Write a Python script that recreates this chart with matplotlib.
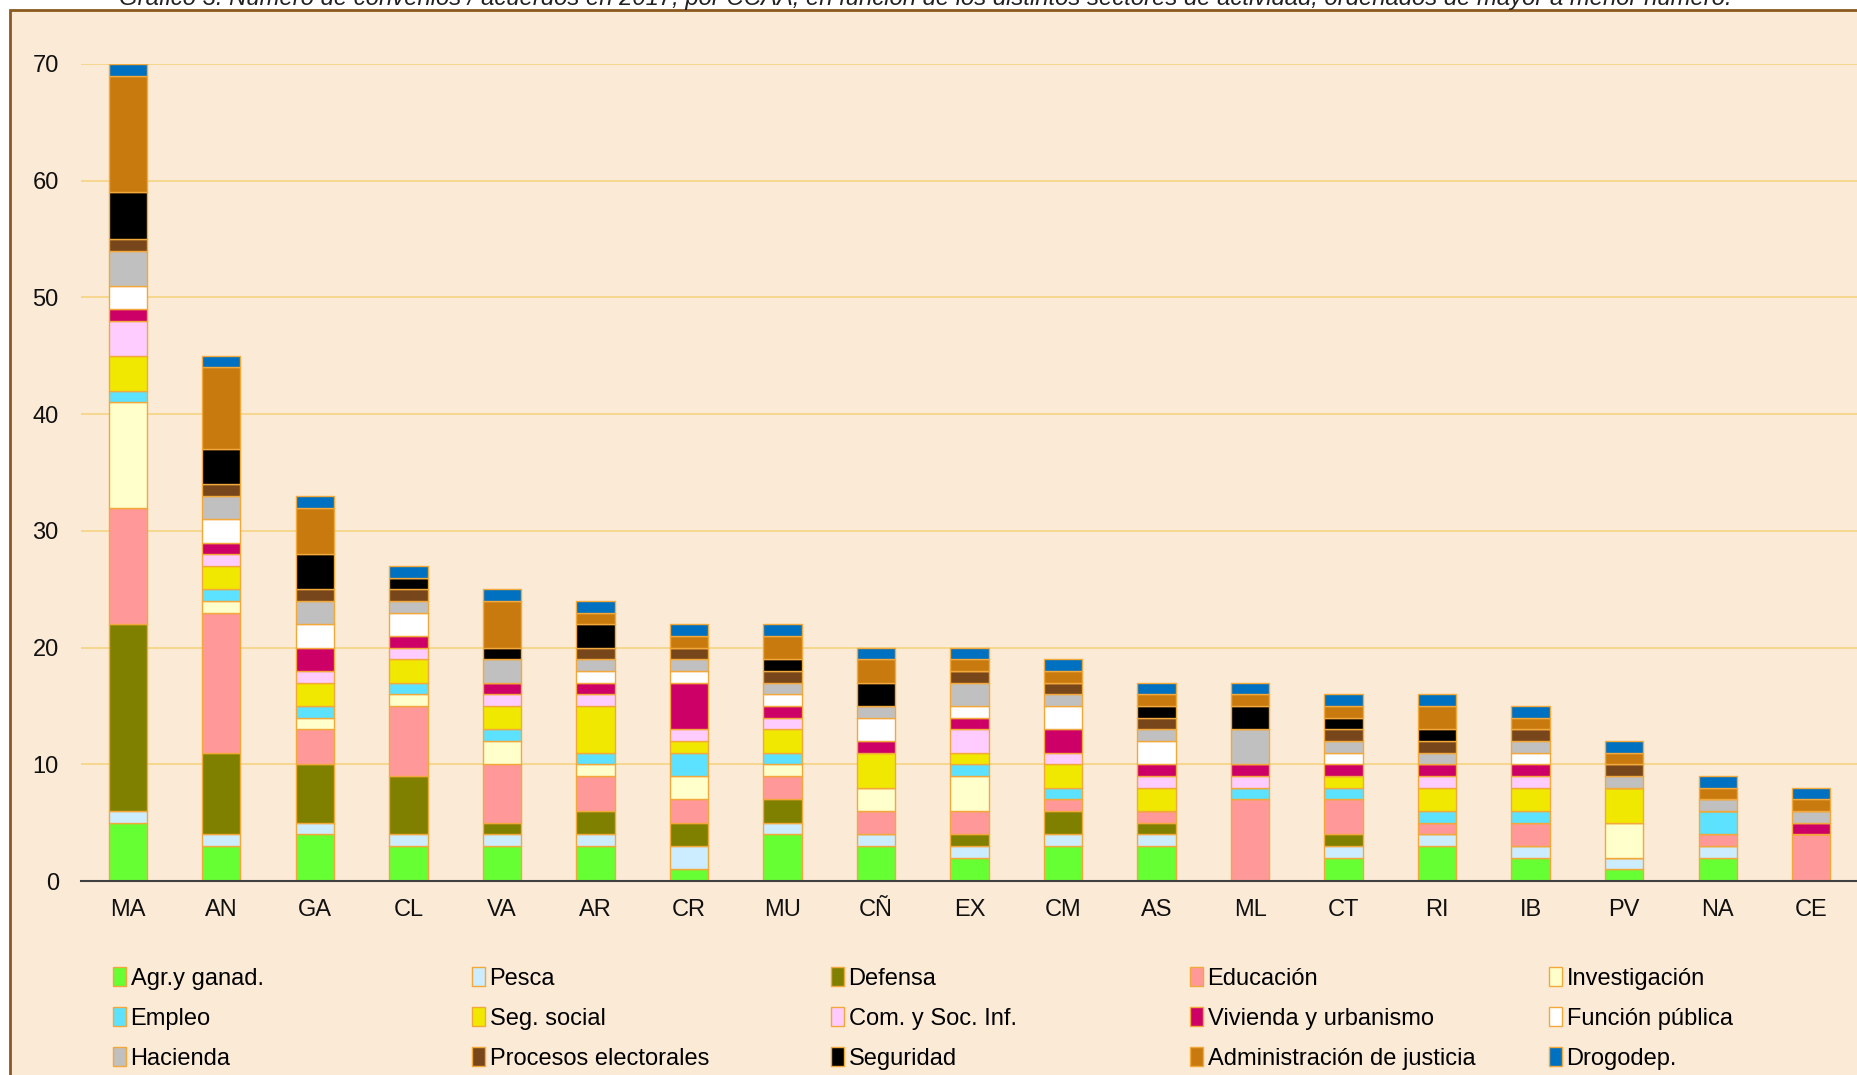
import matplotlib
matplotlib.use('Agg')
import matplotlib.pyplot as plt
from matplotlib.patches import Rectangle
import numpy as np

plt.rcParams['font.family'] = ['Liberation Sans', 'DejaVu Sans']

regions = ['MA', 'AN', 'GA', 'CL', 'VA', 'AR', 'CR', 'MU', 'CÑ', 'EX',
           'CM', 'AS', 'ML', 'CT', 'RI', 'IB', 'PV', 'NA', 'CE']

agr = [5, 3, 4, 3, 3, 3, 1, 4, 3, 2, 3, 3, 0, 2, 3, 2, 1, 2, 0]
pesca = [1, 1, 1, 1, 1, 1, 2, 1, 1, 1, 1, 1, 0, 1, 1, 1, 1, 1, 0]
defensa = [16, 7, 5, 5, 1, 2, 2, 2, 0, 1, 2, 1, 0, 1, 0, 0, 0, 0, 0]
educacion = [10, 12, 3, 6, 5, 3, 2, 2, 2, 2, 1, 1, 7, 3, 1, 2, 0, 1, 4]
investigacion = [9, 1, 1, 1, 2, 1, 2, 1, 2, 3, 0, 0, 0, 0, 0, 0, 3, 0, 0]
empleo = [1, 1, 1, 1, 1, 1, 2, 1, 0, 1, 1, 0, 1, 1, 1, 1, 0, 2, 0]
seg_social = [3, 2, 2, 2, 2, 4, 1, 2, 3, 1, 2, 2, 0, 1, 2, 2, 3, 0, 0]
com_soc = [3, 1, 1, 1, 1, 1, 1, 1, 0, 2, 1, 1, 1, 0, 1, 1, 0, 0, 0]
vivienda = [1, 1, 2, 1, 1, 1, 4, 1, 1, 1, 2, 1, 1, 1, 1, 1, 0, 0, 1]
funcion_publica = [2, 2, 2, 2, 0, 1, 1, 1, 2, 1, 2, 2, 0, 1, 0, 1, 0, 0, 0]
hacienda = [3, 2, 2, 1, 2, 1, 1, 1, 1, 2, 1, 1, 3, 1, 1, 1, 1, 1, 1]
procesos = [1, 1, 1, 1, 0, 1, 1, 1, 0, 1, 1, 1, 0, 1, 1, 1, 1, 0, 0]
seguridad = [4, 3, 3, 1, 1, 2, 0, 1, 2, 0, 0, 1, 2, 1, 1, 0, 0, 0, 0]
justicia = [10, 7, 4, 0, 4, 1, 1, 2, 2, 1, 1, 1, 1, 1, 2, 1, 1, 1, 1]
drogodep = [1, 1, 1, 1, 1, 1, 1, 1, 1, 1, 1, 1, 1, 1, 1, 1, 1, 1, 1]

series = [
    ('Agr.y ganad.', agr, '#66FF33'),
    ('Pesca', pesca, '#CCECFF'),
    ('Defensa', defensa, '#808000'),
    ('Educación', educacion, '#FF9999'),
    ('Investigación', investigacion, '#FFFFCC'),
    ('Empleo', empleo, '#5CE1FF'),
    ('Seg. social', seg_social, '#F0E800'),
    ('Com. y Soc. Inf.', com_soc, '#FFCCFF'),
    ('Vivienda y urbanismo', vivienda, '#CC0066'),
    ('Función pública', funcion_publica, '#FFFFFF'),
    ('Hacienda', hacienda, '#C0C0C0'),
    ('Procesos electorales', procesos, '#77461A'),
    ('Seguridad', seguridad, '#000000'),
    ('Administración de justicia', justicia, '#C87A0E'),
    ('Drogodep.', drogodep, '#0070C0'),
]

title = ('Gráfico 3. Número de convenios / acuerdos en 2017, por CCAA, en función de '
         'los distintos sectores de actividad, ordenados de mayor a menor número.')

bg = '#FBEAD6'
W, H = 1858, 1075
fig = plt.figure(figsize=(W / 100, H / 100), dpi=100, facecolor='white')

# chart area frame (only top and left edges fall inside the picture)
fig.add_artist(Rectangle((10 / W, -0.05), 1.2, 1 - 10 / H + 0.05, transform=fig.transFigure,
                         facecolor=bg, edgecolor='#8B5A1E', linewidth=2, zorder=0))
fig.text(925 / W, 1 + 1 / H, title, ha='center', va='center', fontsize=17.2,
         style='italic', color='#222222')

ax = fig.add_axes([81 / W, 1 - 881 / H, (W - 81) / W, (881 - 64) / H])
ax.set_facecolor('none')

x = np.arange(len(regions))
bottom = np.zeros(len(regions))
handles = []
for name, vals, col in series:
    b = ax.bar(x, vals, 0.41, bottom=bottom, color=col, edgecolor='#F2A83A',
               linewidth=1, label=name, zorder=3)
    handles.append(b)
    bottom += np.array(vals)

ax.set_xlim(-0.5, 18.5)
ax.set_ylim(0, 70)
ax.set_yticks(range(0, 71, 10))
ax.grid(axis='y', color='#F5D483', linewidth=1.2, zorder=0)
ax.set_xticks(x)
ax.set_xticklabels(regions)
ax.tick_params(axis='both', length=0, labelsize=17, colors='#111111')
ax.tick_params(axis='x', pad=13)
ax.tick_params(axis='y', pad=16)
for s in ['top', 'right', 'left']:
    ax.spines[s].set_visible(False)
ax.spines['bottom'].set_color('#404040')
ax.spines['bottom'].set_linewidth(1.5)
ax.spines['bottom'].set_zorder(4)

# legend: 5 columns, filled row by row
col_x = [101, 460, 819, 1178, 1537]
for c in range(5):
    hs = [handles[c], handles[c + 5], handles[c + 10]]
    leg = fig.legend(hs, [h.get_label() for h in hs], loc='upper left',
                     bbox_to_anchor=(col_x[c] / W, 1 - 955 / H), frameon=False,
                     fontsize=17, handlelength=0.55, handleheight=0.9,
                     handletextpad=0.2, labelspacing=0.72, borderpad=0)

fig.savefig('out.png', dpi=100, facecolor='white')
